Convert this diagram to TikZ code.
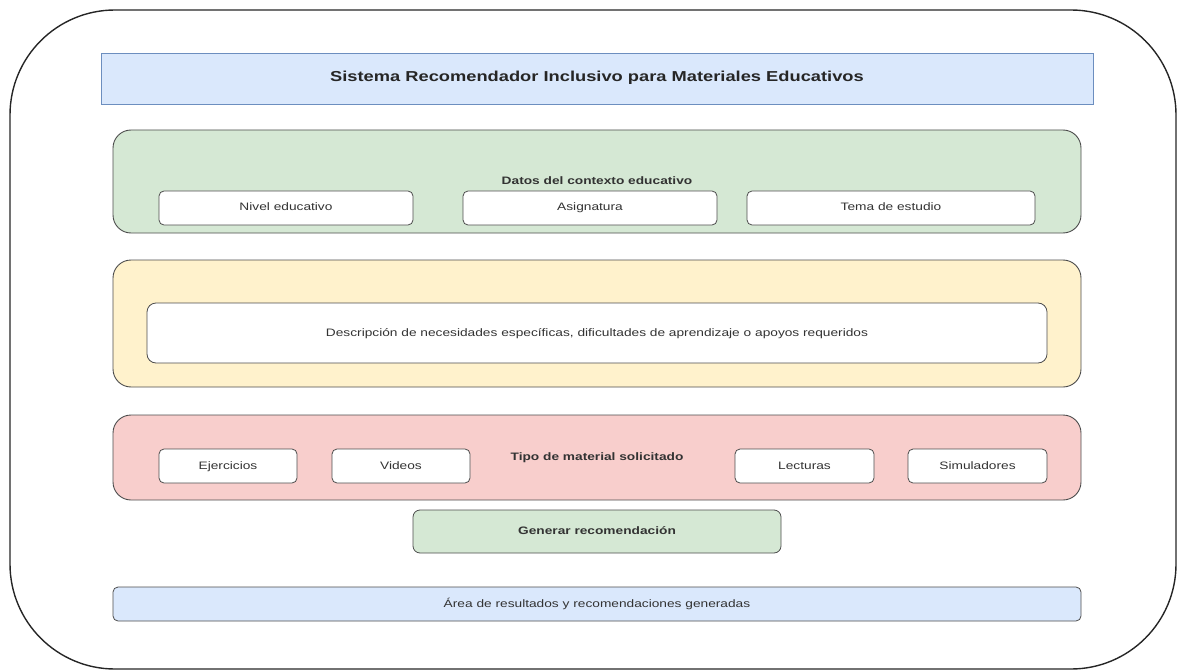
\documentclass[tikz,border=0pt]{standalone}
\usepackage{fontspec}
\setmainfont[FakeStretch = 1.27]{Liberation Sans}
\definecolor{edge}{HTML}{4D4D4D}
\definecolor{ink}{HTML}{333333}
\definecolor{bluefill}{HTML}{DAE8FC}
\definecolor{blueedge}{HTML}{6C8EBF}
\definecolor{greenfill}{HTML}{D5E8D4}
\definecolor{yellowfill}{HTML}{FFF2CC}
\definecolor{redfill}{HTML}{F8CECC}
\tikzset{
    panel/.style = {draw = edge, line width = 0.9pt, rounded corners = 18pt, inner sep = 0pt, text = ink, text height = 8pt, text depth = 2pt},
    field/.style = {draw = edge, fill = white, line width = 0.8pt, rounded corners = 5pt, inner sep = 0pt, text = ink, text height = 8pt, text depth = 2pt, font = \fontsize{10.8}{13}\selectfont},
    bold label/.style = {font = \fontsize{10.8}{13}\selectfont\bfseries},
}

\begin{document}
\begin{tikzpicture}[x = 1pt, y = -1pt]
    \useasboundingbox (0,0) rectangle (1177,671);
    % outer frame
    \draw[line width = 1.4pt, color = black!85, rounded corners = 105pt] (10,10) rectangle (1176,669);
    \node[draw = blueedge, fill = bluefill, line width = 0.8pt, inner sep = 0pt, minimum width = 992pt, minimum height = 51pt, text = black!85, text height = 10pt, text depth = 3pt, font = \fontsize{14.4}{16}\selectfont\bfseries] (TITLE) at (597,78.5) {Sistema Recomendador Inclusivo para Materiales Educativos};
    % contexto educativo
    \node[panel, fill = greenfill, minimum width = 968pt, minimum height = 103pt, bold label] (CTX) at (597,181.5) {Datos del contexto educativo};
    \node[field, minimum width = 254pt, minimum height = 34pt] (NIVEL) at (286,208) {Nivel educativo};
    \node[field, minimum width = 254pt, minimum height = 34pt] (ASIG) at (590,208) {Asignatura};
    \node[field, minimum width = 288pt, minimum height = 34pt] (TEMA) at (891,208) {Tema de estudio};
    % necesidades
    \node[panel, fill = yellowfill, minimum width = 968pt, minimum height = 127pt] (NEC) at (597,323.5) {};
    \node[field, minimum width = 900pt, minimum height = 60pt, rounded corners = 9pt] (DESC) at (597,333) {Descripción de necesidades específicas, dificultades de aprendizaje o apoyos requeridos};
    % tipo de material
    \node[panel, fill = redfill, minimum width = 968pt, minimum height = 85pt, bold label] (TIPO) at (597,457.5) {Tipo de material solicitado};
    \node[field, minimum width = 138pt, minimum height = 34pt] (EJER) at (228,466) {Ejercicios};
    \node[field, minimum width = 138pt, minimum height = 34pt] (VID) at (401,466) {Videos};
    \node[field, minimum width = 139pt, minimum height = 34pt] (LEC) at (804.5,466) {Lecturas};
    \node[field, minimum width = 139pt, minimum height = 34pt] (SIM) at (977.5,466) {Simuladores};
    % boton y resultados
    \node[field, fill = greenfill, minimum width = 368pt, minimum height = 43pt, rounded corners = 7pt, bold label] (GEN) at (597,531.5) {Generar recomendación};
    \node[field, fill = bluefill, minimum width = 968pt, minimum height = 34pt] (RES) at (597,604) {Área de resultados y recomendaciones generadas};
\end{tikzpicture}
\end{document}
